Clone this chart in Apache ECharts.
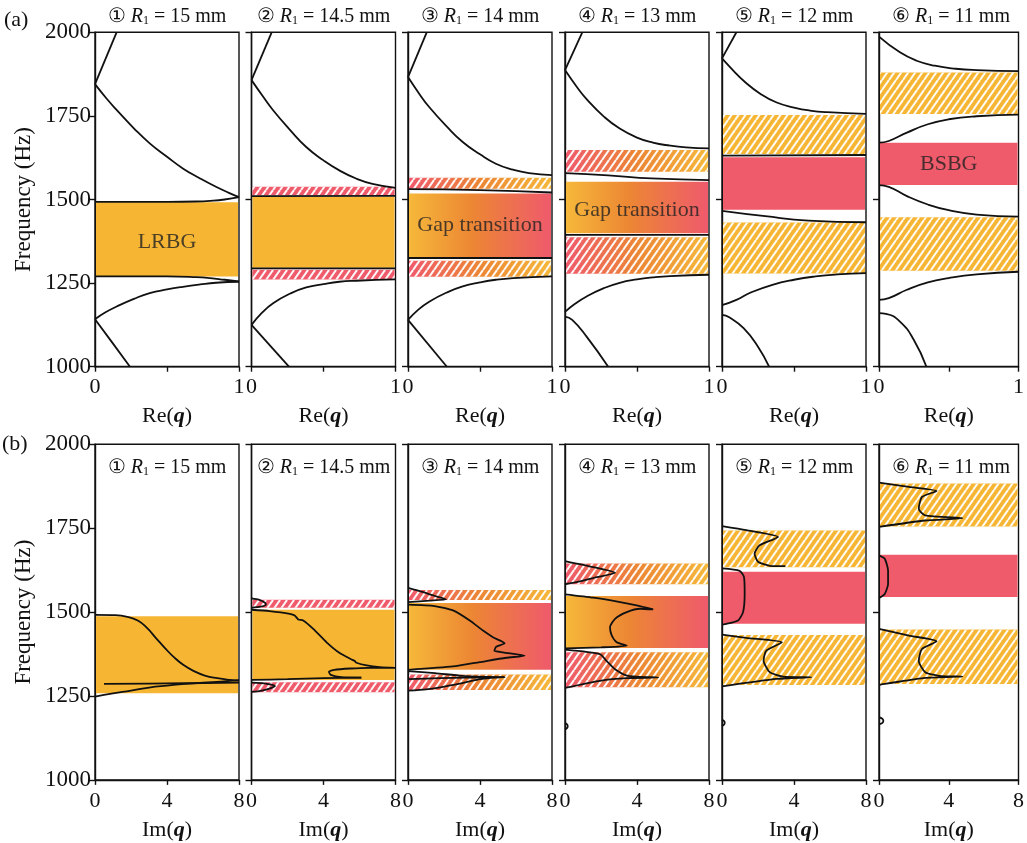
<!DOCTYPE html>
<html><head><meta charset="utf-8">
<script src="https://cdn.jsdelivr.net/npm/echarts@6/dist/echarts.min.js"></script>
<style>html,body{margin:0;padding:0;background:#fff}#c{width:1027px;height:843px}</style>
</head><body><div id="c"></div>
<script>
// ---------------- DATA ----------------
const radiiMm = ['15', '14.5', '14', '13', '12', '11'];
const panelMarks = ['\u2460', '\u2461', '\u2462', '\u2463', '\u2464', '\u2465'];
const freqTicksFirst = [1000, 1250, 1500, 1750, 2000];
const reTickLabels = ['0', '1'];
const imTickLabels = ['0', '4', '8'];

// bands: [fLow, fHigh, kind]  LR=locally-resonant, BS=Bragg, TR=transition, h=hatched
const reBands = [
  [[1270, 1492, 'LR']],
  [[1513, 1538, 'BSh'], [1296, 1508, 'LR'], [1261, 1290, 'BSh']],
  [[1532, 1565, 'TRh'], [1327, 1518, 'TR'], [1269, 1317, 'TRh']],
  [[1583, 1648, 'TRh'], [1399, 1553, 'TR'], [1278, 1387, 'TRh']],
  [[1636, 1753, 'LRh'], [1469, 1626, 'BS'], [1279, 1431, 'LRh']],
  [[1756, 1880, 'LRh'], [1543, 1670, 'BS'], [1287, 1447, 'LRh']]
];
const imBands = [
  [[1258, 1488, 'LR']],
  [[1513, 1537, 'BSh'], [1298, 1507, 'LR'], [1261, 1291, 'BSh']],
  [[1536, 1566, 'TRh'], [1328, 1527, 'TR'], [1268, 1314, 'TRh']],
  [[1583, 1645, 'TRh'], [1393, 1548, 'TR'], [1276, 1380, 'TRh']],
  [[1634, 1743, 'LRh'], [1465, 1620, 'BS'], [1283, 1432, 'LRh']],
  [[1755, 1883, 'LRh'], [1545, 1671, 'BS'], [1286, 1448, 'LRh']]
];

// Re(q) dispersion curves, points [Re(q), f]
const reCurves = [
  [
    [[0, 1845], [0.15, 2000]],
    [[0, 1845], [0.08, 1802], [0.15, 1768], [0.27, 1713], [0.38, 1668], [0.5, 1628], [0.61, 1593], [0.73, 1563], [0.84, 1538], [0.93, 1520], [1, 1507]],
    [[0, 1493], [0.5, 1493], [0.7, 1494], [0.8, 1496], [0.9, 1500], [1, 1507]],
    [[0, 1270], [0.5, 1270], [0.7, 1268], [0.8, 1265], [0.9, 1260], [1, 1255]],
    [[0, 1142], [0.07, 1162], [0.15, 1180], [0.27, 1203], [0.38, 1220], [0.5, 1231], [0.61, 1239], [0.73, 1246], [0.84, 1251], [1, 1254]],
    [[0, 1142], [0.12, 1072], [0.243, 1000]]
  ],
  [
    [[0, 1857], [0.14, 2000]],
    [[0, 1857], [0.08, 1808], [0.15, 1767], [0.27, 1707], [0.38, 1657], [0.5, 1617], [0.61, 1587], [0.73, 1562], [0.84, 1547], [1, 1535]],
    [[0, 1510], [1, 1511]],
    [[0, 1294], [1, 1294]],
    [[0, 1125], [0.07, 1160], [0.15, 1190], [0.27, 1219], [0.38, 1237], [0.5, 1247], [0.61, 1254], [0.73, 1257], [1, 1261]],
    [[0, 1125], [0.26, 1000]]
  ],
  [
    [[0, 1866], [0.13, 2000]],
    [[0, 1866], [0.08, 1815], [0.15, 1775], [0.27, 1718], [0.38, 1672], [0.5, 1635], [0.61, 1607], [0.73, 1589], [0.84, 1579], [1, 1573]],
    [[0, 1531], [0.5, 1528], [1, 1521]],
    [[0, 1325], [1, 1325]],
    [[0, 1140], [0.07, 1170], [0.15, 1195], [0.27, 1222], [0.38, 1240], [0.5, 1252], [0.61, 1260], [0.73, 1265], [1, 1270]],
    [[0, 1140], [0.27, 1000]]
  ],
  [
    [[0, 1887], [0.12, 2000]],
    [[0, 1887], [0.08, 1838], [0.15, 1800], [0.27, 1748], [0.38, 1712], [0.5, 1685], [0.61, 1670], [0.73, 1661], [0.84, 1656], [1, 1653]],
    [[0, 1579], [0.3, 1572], [0.6, 1563], [1, 1558]],
    [[0, 1394], [1, 1394]],
    [[0, 1164], [0.07, 1188], [0.15, 1210], [0.27, 1235], [0.38, 1251], [0.5, 1261], [0.61, 1267], [0.73, 1271], [1, 1275]],
    [[0, 1150], [0.05, 1140], [0.15, 1090], [0.3, 1000]]
  ],
  [
    [[0, 1922], [0.1, 2000]],
    [[0, 1922], [0.08, 1885], [0.15, 1855], [0.27, 1815], [0.38, 1790], [0.5, 1775], [0.61, 1766], [0.73, 1761], [1, 1756]],
    [[0, 1631], [1, 1633]],
    [[0, 1466], [0.3, 1450], [0.6, 1437], [1, 1432]],
    [[0, 1184], [0.1, 1200], [0.2, 1222], [0.35, 1245], [0.5, 1260], [0.65, 1270], [0.8, 1276], [1, 1280]],
    [[0, 1155], [0.05, 1148], [0.15, 1115], [0.25, 1060], [0.327, 1000]]
  ],
  [
    [[0, 1987], [0.15, 1940], [0.27, 1915], [0.4, 1900], [0.55, 1891], [0.7, 1887], [1, 1884]],
    [[0, 1670], [0.07, 1675], [0.2, 1700], [0.35, 1725], [0.5, 1740], [0.7, 1749], [1, 1754]],
    [[0, 1543], [0.07, 1538], [0.2, 1510], [0.35, 1485], [0.5, 1468], [0.7, 1455], [1, 1449]],
    [[0, 1200], [0.07, 1205], [0.2, 1230], [0.35, 1252], [0.5, 1265], [0.7, 1276], [1, 1284]],
    [[0, 1160], [0.05, 1158], [0.15, 1135], [0.25, 1080], [0.34, 1000]]
  ]
];

// Im(q) curves, points [Im(q), f]
const imCurves = [
  [
    [[0, 1492], [1, 1491], [1.8, 1486], [2.4, 1474], [2.9, 1452], [3.4, 1422], [3.9, 1392], [4.4, 1365], [4.9, 1343], [5.5, 1324], [6.1, 1311], [6.8, 1303], [7.5, 1298], [8, 1296]],
    [[0, 1248], [1, 1258], [2, 1266], [3, 1275], [4, 1281], [5, 1286], [6, 1290], [7, 1293], [8, 1297]],
    [[0.5, 1286], [3, 1287], [5, 1288], [8, 1290]]
  ],
  [
    [[0, 1541], [0.4, 1537], [0.75, 1528], [0.8, 1522], [0.5, 1516], [0, 1513]],
    [[0, 1507], [1, 1503], [2.13, 1495], [2.4, 1490], [2.6, 1478], [2.87, 1475], [3.43, 1450], [4.17, 1410], [4.9, 1378], [5.56, 1359], [5.74, 1354], [5.83, 1349], [6.4, 1341], [7.13, 1336], [8, 1334], [6.5, 1334], [5.5, 1332], [4.6, 1328], [4.3, 1322], [4.4, 1313], [5, 1306], [6.1, 1305]],
    [[0, 1298], [2, 1300], [4, 1303], [6.1, 1305]],
    [[0, 1290], [0.8, 1287], [1.3, 1280], [1.0, 1272], [0.5, 1265], [0, 1262]]
  ],
  [
    [[0, 1572], [0.8, 1560], [1.5, 1548], [2.13, 1538], [1.2, 1534], [0, 1530]],
    [[0, 1522], [1.48, 1518], [2.5, 1505], [3.43, 1475], [4.17, 1445], [4.72, 1425], [5.37, 1407], [4.9, 1397], [4.8, 1385], [5.28, 1380], [6.48, 1370], [5.46, 1364], [3.98, 1351], [2.5, 1338], [0, 1328]],
    [[0, 1324], [1.5, 1318], [3, 1310], [4.5, 1307], [5.37, 1306], [4, 1305], [2.5, 1304], [1, 1302], [0, 1300]],
    [[0, 1266], [1, 1270], [1.8, 1276], [2.6, 1284], [3.3, 1292], [4, 1300], [4.7, 1305], [5.37, 1306]]
  ],
  [
    [[0, 1652], [1.57, 1634], [2.78, 1617], [1.76, 1604], [0.65, 1589], [0, 1583]],
    [[0, 1553], [1.57, 1543], [3.06, 1530], [3.98, 1520], [4.9, 1508], [4.17, 1510], [3.43, 1500], [2.78, 1480], [2.5, 1455], [2.6, 1430], [2.87, 1410], [3.43, 1400], [2, 1395], [0, 1392]],
    [[0, 1388], [1.94, 1375], [2.3, 1355], [2.78, 1330], [3.5, 1310], [5.18, 1305], [3.43, 1303], [1.94, 1295], [0, 1274]],
    [[0, 1170], [0.12, 1165], [0.15, 1160], [0.12, 1155], [0, 1150]]
  ],
  [
    [[0, 1756], [1.35, 1744], [3.11, 1724], [2.09, 1699], [1.81, 1674], [2.0, 1650], [2.65, 1638], [3.52, 1637]],
    [[0, 1630], [0.98, 1623], [1.22, 1605], [1.26, 1555], [1.17, 1500], [0.89, 1475], [0.24, 1465], [0, 1463]],
    [[0, 1433], [1.35, 1423], [3.33, 1410], [2.46, 1385], [2.31, 1356], [2.65, 1321], [3.39, 1308], [4.96, 1306], [3.02, 1301], [0, 1279]],
    [[0, 1180], [0.12, 1175], [0.15, 1170], [0.12, 1165], [0, 1160]]
  ],
  [
    [[0, 1886], [1.72, 1873], [3.3, 1861], [2.46, 1843], [2.28, 1808], [2.65, 1788], [4.78, 1780], [2.65, 1773], [0, 1754]],
    [[0, 1669], [0.33, 1659], [0.52, 1624], [0.52, 1584], [0.33, 1554], [0, 1542]],
    [[0, 1450], [1.72, 1430], [3.3, 1413], [2.46, 1390], [2.28, 1355], [2.65, 1321], [3.57, 1309], [4.78, 1308], [2.65, 1304], [0, 1283]],
    [[0, 1187], [0.2, 1182], [0.25, 1176], [0.2, 1170], [0, 1165]]
  ]
];

// band-gap names: [panel, text, Re(q), f]
const bandNames = [
  [0, 'LRBG', 0.5, 1373],
  [2, 'Gap transition', 0.5, 1424],
  [3, 'Gap transition', 0.5, 1469],
  [5, 'BSBG', 0.5, 1606]
];

// ---------------- STYLE / LAYOUT ----------------
const SERIF = "'Liberation Serif','Times New Roman','DejaVu Serif',serif";
const YELLOW = '#F6B634', RED = '#EF5B6B', ORANGE = '#EC8634';
const LEFTS = [95, 251.5, 408, 565, 722, 879];
const PW = 144;
const ROWS = [{top: 32.3, height: 334.4}, {top: 444.3, height: 335.6}];

function makeHatch() {
  const w = 7, h = 10;
  const c = document.createElement('canvas');
  c.width = w; c.height = h;
  const ctx = c.getContext('2d');
  ctx.strokeStyle = 'rgba(255,255,255,0.95)';
  ctx.lineWidth = 2;
  for (const k of [-w, 0, w]) {
    ctx.beginPath(); ctx.moveTo(k, h); ctx.lineTo(k + w, 0); ctx.stroke();
  }
  return c;
}
const hatchCanvas = makeHatch();

function bandFill(kind) {
  const k = kind.replace('h', '');
  if (k === 'LR') return YELLOW;
  if (k === 'BS') return RED;
  if (kind === 'TR') return new echarts.graphic.LinearGradient(0, 0, 1, 0, [
    {offset: 0, color: '#F6B83A'}, {offset: 0.45, color: ORANGE}, {offset: 1, color: '#EF5A6C'}]);
  return new echarts.graphic.LinearGradient(0, 0, 1, 0, [
    {offset: 0, color: '#EF5A6C'}, {offset: 0.5, color: ORANGE}, {offset: 1, color: '#F6B83A'}]);
}

const grids = [], xAxes = [], yAxes = [], series = [], graphics = [];
const axisLineStyle = {color: '#111', width: 1.4};

for (let r = 0; r < 2; r++) {
  for (let i = 0; i < 6; i++) {
    const gi = r * 6 + i;
    const xr = r === 0 ? [0, 1] : [0, 8];
    grids.push({left: LEFTS[i], top: ROWS[r].top, width: PW, height: ROWS[r].height,
      show: true, borderColor: '#111', borderWidth: 1.4, containLabel: false});
    const tickLabels = r === 0 ? reTickLabels : imTickLabels;
    xAxes.push({
      gridIndex: gi, type: 'value', min: xr[0], max: xr[1], interval: r === 0 ? 0.5 : 4,
      axisLine: {show: true, onZero: false, lineStyle: axisLineStyle},
      axisTick: {show: true, length: 5, lineStyle: axisLineStyle},
      axisLabel: {
        show: true, margin: 10, color: '#111', fontFamily: SERIF, fontSize: 22,
        showMinLabel: true, showMaxLabel: true,
        formatter: v => tickLabels.indexOf(String(v)) >= 0 ? String(v) : ''
      },
      splitLine: {show: false},
      name: r === 0 ? '{a|Re(}{b|q}{a|)}' : '{a|Im(}{b|q}{a|)}',
      nameLocation: 'middle', nameGap: 39,
      nameTextStyle: {rich: {
        a: {fontFamily: SERIF, fontSize: 22, color: '#111'},
        b: {fontFamily: SERIF, fontSize: 22, color: '#111', fontWeight: 'bold', fontStyle: 'italic'}
      }}
    });
    yAxes.push({
      gridIndex: gi, type: 'value', min: freqTicksFirst[0], max: freqTicksFirst[freqTicksFirst.length - 1],
      interval: i === 0 ? 250 : 500,
      axisLine: {show: true, onZero: false, lineStyle: axisLineStyle},
      axisTick: {show: true, length: 6, lineStyle: axisLineStyle},
      axisLabel: {show: i === 0, margin: 4, color: '#111', fontFamily: SERIF, fontSize: 23,
        formatter: v => String(v)},
      splitLine: {show: false},
      name: i === 0 ? 'Frequency (Hz)' : '',
      nameLocation: 'middle', nameGap: 60,
      nameTextStyle: {fontFamily: SERIF, fontSize: 23, color: '#111'}
    });

    // bands
    const bands = r === 0 ? reBands[i] : imBands[i];
    series.push({
      type: 'custom', xAxisIndex: gi, yAxisIndex: gi, z: 1, silent: true,
      data: bands.map(b => [xr[0], b[0], xr[1], b[1]]),
      encode: {x: [0, 2], y: [1, 3]},
      renderItem: (params, api) => {
        const b = bands[params.dataIndex];
        const p0 = api.coord([xr[0], b[1]]);
        const p1 = api.coord([xr[1], b[0]]);
        const shape = {x: p0[0] + 1, y: p0[1], width: p1[0] - p0[0] - 2, height: p1[1] - p0[1]};
        const children = [{type: 'rect', shape: shape, style: {fill: bandFill(b[2])}}];
        if (b[2].indexOf('h') >= 0) {
          children.push({type: 'rect', shape: shape, style: {fill: {image: hatchCanvas, repeat: 'repeat'}}});
        }
        return {type: 'group', children: children};
      }
    });

    // curves
    const curves = r === 0 ? reCurves[i] : imCurves[i];
    curves.forEach((c, ci) => {
      series.push({
        type: 'line', xAxisIndex: gi, yAxisIndex: gi, data: c, z: 3, silent: true,
        showSymbol: false, symbol: 'none',
        smooth: r === 0 ? 0.5 : (i === 0 ? 0.5 : 0.2),
        lineStyle: {color: '#111', width: 1.8}
      });
    });

    // panel titles
    const titleText = '{t|' + panelMarks[i] + ' }{i|R}{s|1}{t| = ' + radiiMm[i] + ' mm}';
    graphics.push({
      type: 'text', x: LEFTS[i] + PW / 2, y: r === 0 ? 17 : 468,
      style: {
        text: titleText, align: 'center', verticalAlign: 'middle',
        rich: {
          t: {fontFamily: SERIF, fontSize: 20, fill: '#111'},
          i: {fontFamily: SERIF, fontSize: 20, fontStyle: 'italic', fill: '#111'},
          s: {fontFamily: SERIF, fontSize: 12, fill: '#111', verticalAlign: 'bottom', padding: [8, 0, 0, 0]}
        }
      }
    });
  }
}

// band-gap name labels
bandNames.forEach(n => {
  series.push({
    type: 'scatter', xAxisIndex: n[0], yAxisIndex: n[0], data: [[n[2], n[3]]],
    symbolSize: 0, z: 5, silent: true,
    label: {show: true, position: 'inside', formatter: n[1], fontFamily: SERIF, fontSize: 22, color: '#222'}
  });
});

graphics.push({type: 'text', x: 4, y: 20, style: {text: '(a)', fontFamily: SERIF, fontSize: 22, fill: '#111', verticalAlign: 'middle'}});
graphics.push({type: 'text', x: 2, y: 444, style: {text: '(b)', fontFamily: SERIF, fontSize: 22, fill: '#111', verticalAlign: 'middle'}});

const chart = echarts.init(document.getElementById('c'), null, {renderer: 'canvas'});
chart.setOption({
  animation: false,
  backgroundColor: '#fff',
  grid: grids, xAxis: xAxes, yAxis: yAxes, series: series, graphic: graphics
});
</script></body></html>
